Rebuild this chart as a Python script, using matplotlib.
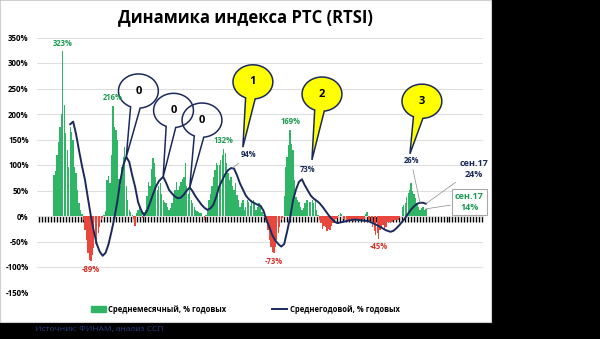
import matplotlib
matplotlib.use('Agg')
import matplotlib.pyplot as plt
import numpy as np
from matplotlib.patches import Rectangle, Polygon, Patch
from matplotlib.lines import Line2D

plt.rcParams['font.family'] = ['Open Sans', 'DejaVu Sans']
plt.rcParams['font.weight'] = 'bold'

# monthly average, % y/y  (Sep 1996 .. Sep 2017)
m96 = [80, 88, 120, 145]
m97 = [175, 200, 323, 218, 162, 129, 97, 175, 165, 150, 97, 84]
m98 = [51, 25, 12, 4, -8, -27, -47, -73, -86, -89, -76, -62]
m99 = [-54, -47, -34, -21, -8, -3, 2, 10, 70, 78, 64, 120]
m00 = [216, 175, 169, 150, 72, 58, 97, 116, 136, 58, 31, 12]
m01 = [8, 2, -5, -20, 5, 12, 18, 10, -3, 8, 12, 40]
m02 = [67, 58, 93, 113, 103, 77, 51, 58, 64, 44, 31, 28]
m03 = [25, 18, 12, 15, 25, 44, 51, 67, 51, 58, 67, 72]
m04 = [77, 103, 58, 44, 58, 31, 25, 18, 12, 10, 8, 5]
m05 = [5, 0, -8, 2, 12, 31, 44, 58, 77, 90, 103, 100]
m06 = [100, 110, 120, 132, 123, 103, 84, 71, 77, 58, 51, 64]
m07 = [41, 31, 18, 25, 31, 12, 18, 31, 28, 20, 31, 31]
m08 = [25, 12, 18, 25, 18, 8, 2, -3, -8, -27, -47, -60]
m09 = [-70, -73, -60, -47, -34, -21, -8, -3, 40, 97, 116, 140]
m10 = [169, 142, 129, 71, 38, 31, 28, 18, 12, 15, 25, 31]
m11 = [31, 28, 28, 31, 25, 31, 12, 2, -8, -14, -25, -20]
m12 = [-22, -30, -25, -27, -20, -14, -8, -5, -3, 2, 5, 3]
m13 = [-5, -8, -10, -11, -8, -6, -9, -11, -7, -5, -8, -10]
m14 = [-6, -9, -5, 3, 8, -10, -12, -10, -21, -30, -38, -34]
m15 = [-45, -27, -21, -18, -27, -21, -11, -11, -11, -11, -8, -8]
m16 = [-8, -8, -4, 0, 18, 21, 25, 38, 45, 51, 64, 50]
m17 = [44, 35, 25, 18, 12, 15, 18, 12, 14]

monthly = (m96 + m97 + m98 + m99 + m00 + m01 + m02 + m03 + m04 + m05 + m06
           + m07 + m08 + m09 + m10 + m11 + m12 + m13 + m14 + m15 + m16 + m17)

# annual average, % y/y (month index, value)
line_idx = [11, 13, 15, 17, 19, 21, 23, 25, 27, 29, 31, 33, 35, 37, 39, 41, 43, 45,
            47, 49, 51, 53, 55, 57, 59, 61, 63, 65, 67, 69, 71, 74, 76, 78, 80, 82,
            84, 86, 88, 90, 92, 94, 96, 98, 100, 102, 104, 106, 108, 110, 112, 114,
            116, 118, 120, 122, 124, 126, 128, 130, 132, 134, 136, 138, 140, 142, 144,
            146, 148, 150, 152, 154, 156, 158, 160, 162, 164, 166, 168, 170, 172, 174,
            176, 178, 180, 182, 184, 186, 188, 190, 192, 195, 198, 201, 204, 207, 210,
            213, 216, 219, 222, 225, 228, 230, 232, 234, 236, 238, 240, 242, 244, 246,
            248, 250, 252]
line_val = [180, 185, 160, 128, 98, 71, 35, 0, -30, -55, -70, -78, -72, -55, -30, -3, 30, 70,
            100, 116, 106, 80, 57, 27, 12, 1, 10, 25, 42, 57, 68, 77, 65, 51, 44, 38,
            35, 36, 42, 50, 56, 48, 38, 30, 22, 16, 12, 15, 22, 38, 58, 70,
            82, 90, 94, 93, 80, 64, 52, 40, 33, 28, 25, 22, 20, 10, -8,
            -22, -38, -48, -55, -60, -55, -30, -3, 31, 52, 67, 72, 60, 50, 40,
            34, 30, 25, 18, 10, 2, -5, -11, -14, -12, -10, -8, -7, -8, -9,
            -10, -14, -18, -23, -28, -31, -29, -24, -18, -11, -4, 5, 13, 19, 24,
            26, 26, 24]

GREEN = '#2fb565'
RED = '#e8473d'
NAVY = '#1b2a5c'
TXT_GREEN = '#1f9a52'
TXT_RED = '#d42f28'

vals = np.array(monthly)
pos = np.arange(len(vals))

fig = plt.figure(figsize=(6, 3.39), dpi=100, facecolor='black')
fig.patches.append(Rectangle((0, 17 / 339), 491 / 600, 1 - 17 / 339, transform=fig.transFigure,
                             facecolor='white', edgecolor='#d0d0d0', lw=0.8, zorder=-1))
ax = fig.add_axes([37 / 600, 1 - 292.5 / 339, 446 / 600, 255 / 339])
ax.set_facecolor('none')

ax.bar(pos, vals, width=0.9, color=[GREEN if v >= 0 else RED for v in vals], linewidth=0, zorder=2)
ax.plot(line_idx, line_val, color=NAVY, lw=1.4, zorder=3)

ax.set_xlim(-11.5, 290.7)
ax.set_ylim(-150, 350)
ax.set_yticks(range(-150, 351, 50))
ax.set_yticklabels([f'{t}%' for t in range(-150, 351, 50)])
ax.yaxis.grid(True, color='#dedede', lw=0.8)
ax.set_axisbelow(True)
for s in ax.spines.values():
    s.set_visible(False)
ax.spines['bottom'].set_visible(True)
ax.spines['bottom'].set_color('none')
ax.spines['bottom'].set_position(('data', 0))
ax.set_xticks(np.arange(-10, 291, 2))
ax.set_xticklabels([])
ax.tick_params(axis='x', length=4.0, width=1.0, color='black', direction='out')
ax.tick_params(axis='y', length=0, labelsize=5.7, pad=6)

# bar peak labels
for i in [6, 40, 115, 160]:
    ax.annotate(f'{vals[i]}%', xy=(i, vals[i]), xytext=(0, 2.5), textcoords='offset points',
                ha='center', va='bottom', fontsize=5.5, color=TXT_GREEN, zorder=6)
for i in [25, 149, 220]:
    ax.annotate(f'{vals[i]}%', xy=(i, vals[i]), xytext=(0, -2.5), textcoords='offset points',
                ha='center', va='top', fontsize=5.5, color=TXT_RED, zorder=6)

# line labels
lead = dict(arrowstyle='-', color='#8a8a8a', lw=0.5, shrinkA=1, shrinkB=0)
ax.annotate('94%', xy=(121, 94), xytext=(132, 120), ha='center', va='center',
            fontsize=5.5, color=NAVY, arrowprops=lead, zorder=6)
ax.annotate('73%', xy=(168, 72), xytext=(172, 91), ha='center', va='center',
            fontsize=5.5, color=NAVY, arrowprops=lead, zorder=6)
ax.annotate('26%', xy=(248, 26), xytext=(242, 108), ha='center', va='center',
            fontsize=5.5, color=NAVY, arrowprops=lead, zorder=6)
ax.annotate('сен.17\n24%', xy=(252, 24), xytext=(284.5, 92), ha='center', va='center',
            fontsize=6.5, color=NAVY, linespacing=1.35, arrowprops=lead, zorder=6,
            annotation_clip=False)
ax.annotate('сен.17\n14%', xy=(252, 14), xytext=(281.5, 27), ha='center', va='center',
            fontsize=6.5, color=TXT_GREEN, linespacing=1.35, zorder=6, annotation_clip=False,
            bbox=dict(boxstyle='square,pad=0.3', fc='white', ec='#a8a8a8', lw=0.8),
            arrowprops=lead)


def bubble(cx, cy, tx, ty, txt, face):
    w, h = 27.0, 67.0
    ang = np.degrees(np.arctan2((ty - cy) / h, (tx - cx) / w))
    t = np.radians(np.linspace(ang + 14, ang + 346, 90))
    xs = np.r_[cx + w / 2 * np.cos(t), tx]
    ys = np.r_[cy + h / 2 * np.sin(t), ty]
    ax.add_patch(Polygon(np.column_stack([xs, ys]), closed=True, facecolor=face,
                         edgecolor=NAVY, lw=1.1, zorder=5, clip_on=False))
    ax.text(cx, cy, txt, ha='center', va='center', fontsize=8, color='black', zorder=6)


bubble(57.2, 245, 49, 116, '0', 'none')
bubble(81, 207, 74, 77, '0', 'none')
bubble(100.3, 188, 92, 56, '0', 'none')
bubble(134.8, 263, 128, 135, '1', '#ffff00')
bubble(181.6, 239, 174.8, 110, '2', '#ffff00')
bubble(249.3, 225, 241.2, 122, '3', '#ffff00')

fig.text(245 / 600, 1 - 17 / 339, 'Динамика индекса РТС (RTSI)', ha='center', va='center',
         fontsize=12, color='black')

handles = [Patch(color=GREEN), Line2D([], [], color=NAVY, lw=1.4)]
fig.legend(handles, ['Среднемесячный, % годовых', 'Среднегодовой, % годовых'],
           loc='center', bbox_to_anchor=(245 / 600, 1 - 309 / 339), ncol=2, frameon=False,
           fontsize=5.5, handlelength=2.0, handleheight=0.8, columnspacing=6, handletextpad=0.3)

fig.text(35 / 600, 1 - 329 / 339, 'Источник: ФИНАМ, анализ ССП', ha='left', va='center',
         fontsize=6, color='#2a3f80', weight='normal')

fig.savefig('out.png', dpi=100, facecolor='black')
